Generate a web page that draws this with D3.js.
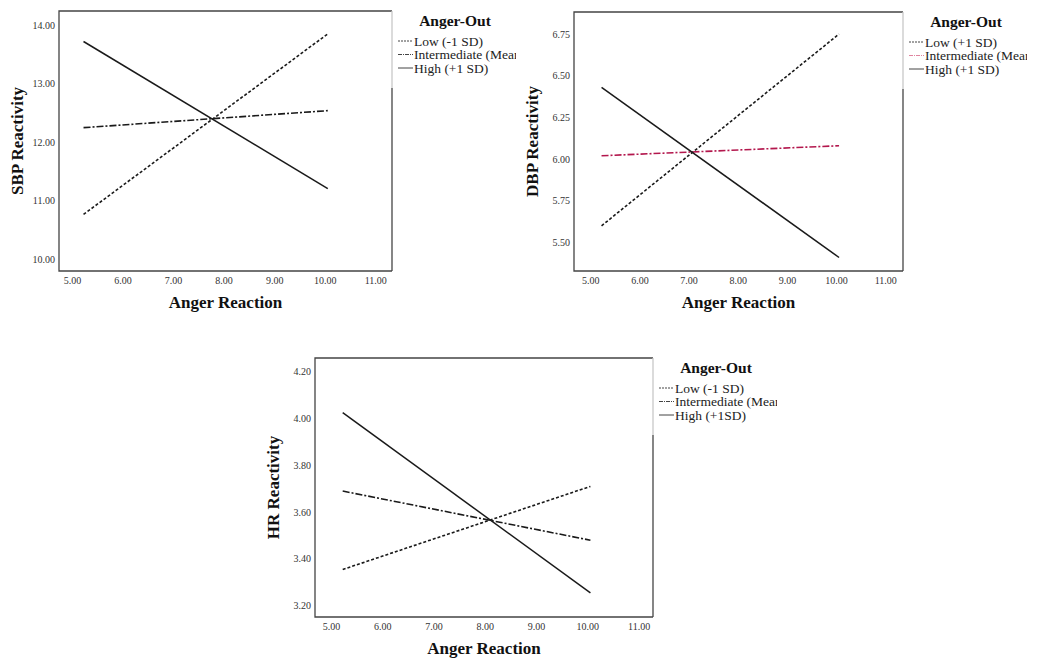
<!DOCTYPE html>
<html>
<head>
<meta charset="utf-8">
<script src="https://cdn.jsdelivr.net/npm/d3@7"></script>
<style>
  body { margin: 0; background: #fff; }
  text { font-family: "Liberation Serif", "Times New Roman", serif; }
  .tick-label { font-size: 10px; fill: #333; }
  .axis-title { font-size: 17px; font-weight: bold; fill: #111; }
  .legend-title { font-size: 15.5px; font-weight: bold; fill: #111; }
  .legend-item { font-size: 13.5px; fill: #222; }
</style>
</head>
<body>
<div class="svg-container"></div>
<script>
var width = 1038;
var height = 659;

// x values where the simple slopes start and end
var xEnds = [5.22, 10.05];
var xTicks = [5, 6, 7, 8, 9, 10, 11];

// SBP panel
var sbpLow = [10.77, 13.85];
var sbpMid = [12.25, 12.54];
var sbpHigh = [13.72, 11.21];
var sbpTicks = [10, 11, 12, 13, 14];
var sbpLegend = ["Low (-1 SD)", "Intermediate (Mean)", "High (+1 SD)"];

// DBP panel
var dbpLow = [5.60, 6.75];
var dbpMid = [6.02, 6.08];
var dbpHigh = [6.43, 5.41];
var dbpTicks = [5.5, 5.75, 6.0, 6.25, 6.5, 6.75];
var dbpLegend = ["Low (+1 SD)", "Intermediate (Mean)", "High (+1 SD)"];

// HR panel
var hrLow = [3.355, 3.71];
var hrMid = [3.69, 3.48];
var hrHigh = [4.025, 3.255];
var hrTicks = [3.2, 3.4, 3.6, 3.8, 4.0, 4.2];
var hrLegend = ["Low (-1 SD)", "Intermediate (Mean)", "High (+1SD)"];

var svg = d3.select(".svg-container")
            .append("svg")
            .attr("width", width)
            .attr("height", height);

// line styles: low = dashed, intermediate = dash-dot, high = solid
var dashes = ["3,2", "7,2,2,2", null];

drawPanel({ id: "sbp", left: 59, top: 11, right: 392, bottom: 271,
            xDomain: [4.735, 11.32], yDomain: [9.805, 14.24],
            series: [sbpLow, sbpMid, sbpHigh], yTicks: sbpTicks,
            legend: sbpLegend, yTitle: "SBP Reactivity", midColor: "#1a1a1a" });

drawPanel({ id: "dbp", left: 574, top: 12, right: 903, bottom: 271,
            xDomain: [4.66, 11.35], yDomain: [5.329, 6.882],
            series: [dbpLow, dbpMid, dbpHigh], yTicks: dbpTicks,
            legend: dbpLegend, yTitle: "DBP Reactivity", midColor: "#b3174d" });

drawPanel({ id: "hr", left: 315, top: 358, right: 653, bottom: 617,
            xDomain: [4.68, 11.27], yDomain: [3.152, 4.2585],
            series: [hrLow, hrMid, hrHigh], yTicks: hrTicks,
            legend: hrLegend, yTitle: "HR Reactivity", midColor: "#1a1a1a" });

function drawPanel(p) {
    var g = svg.append("g").attr("class", p.id);

    var scaleX = d3.scaleLinear().domain(p.xDomain).range([p.left, p.right]);
    var scaleY = d3.scaleLinear().domain(p.yDomain).range([p.bottom, p.top]);

    // tick labels, no tick marks (SPSS style)
    g.selectAll(".xlab")
     .data(xTicks)
     .enter().append("text")
     .attr("class", "tick-label")
     .attr("x", function(d) { return scaleX(d); })
     .attr("y", p.bottom + 13)
     .attr("text-anchor", "middle")
     .text(function(d) { return d3.format(".2f")(d); });

    g.selectAll(".ylab")
     .data(p.yTicks)
     .enter().append("text")
     .attr("class", "tick-label")
     .attr("x", p.left - 4)
     .attr("y", function(d) { return scaleY(d); })
     .attr("dy", "0.35em")
     .attr("text-anchor", "end")
     .text(function(d) { return d3.format(".2f")(d); });

    // frame
    var frame = "#444";
    g.append("path")
     .attr("d", "M" + p.right + "," + p.top + "H" + p.left + "V" + p.bottom + "H" + p.right)
     .attr("fill", "none").attr("stroke", frame).attr("stroke-width", 1.3);
    g.append("line")
     .attr("x1", p.right).attr("x2", p.right)
     .attr("y1", p.top).attr("y2", p.top + 77)
     .attr("stroke", "#c8c8c8").attr("stroke-width", 1.3);
    g.append("line")
     .attr("x1", p.right).attr("x2", p.right)
     .attr("y1", p.top + 77).attr("y2", p.bottom)
     .attr("stroke", frame).attr("stroke-width", 1.3);

    // the three simple slopes
    var line = d3.line()
                 .x(function(d, i) { return scaleX(xEnds[i]); })
                 .y(function(d) { return scaleY(d); });

    p.series.forEach(function(s, i) {
        g.append("path")
         .datum(s)
         .attr("fill", "none")
         .attr("stroke", i == 1 ? p.midColor : "#1a1a1a")
         .attr("stroke-width", i == 2 ? 1.5 : 1.6)
         .attr("stroke-dasharray", dashes[i])
         .attr("d", line);
    });

    // axis titles
    g.append("text")
     .attr("class", "axis-title")
     .attr("x", (p.left + p.right) / 2)
     .attr("y", p.bottom + 37)
     .attr("text-anchor", "middle")
     .text("Anger Reaction");

    g.append("text")
     .attr("class", "axis-title")
     .attr("transform", "rotate(-90)")
     .attr("x", -(p.top + p.bottom) / 2)
     .attr("y", p.left - 36)
     .attr("text-anchor", "middle")
     .text(p.yTitle);

    // legend, clipped on the right like the source image
    svg.append("clipPath")
       .attr("id", "clip-" + p.id)
       .append("rect")
       .attr("x", p.right + 2).attr("y", p.top - 10)
       .attr("width", 122).attr("height", 90);

    var lg = g.append("g").attr("clip-path", "url(#clip-" + p.id + ")");

    lg.append("text")
      .attr("class", "legend-title")
      .attr("x", p.right + 63)
      .attr("y", p.top + 15)
      .attr("text-anchor", "middle")
      .text("Anger-Out");

    p.legend.forEach(function(label, i) {
        var y = p.top + 30 + i * 13.5;
        lg.append("line")
          .attr("x1", p.right + 6).attr("x2", p.right + 21)
          .attr("y1", y).attr("y2", y)
          .attr("stroke", i == 1 && p.id == "dbp" ? "#e0849f" : "#444")
          .attr("stroke-width", 1)
          .attr("stroke-dasharray", i == 0 ? "2,1" : (i == 1 ? "4,1,1,1" : null));
        lg.append("text")
          .attr("class", "legend-item")
          .attr("x", p.right + 22)
          .attr("y", y)
          .attr("dy", "0.35em")
          .text(label);
    });
}
</script>
</body>
</html>
